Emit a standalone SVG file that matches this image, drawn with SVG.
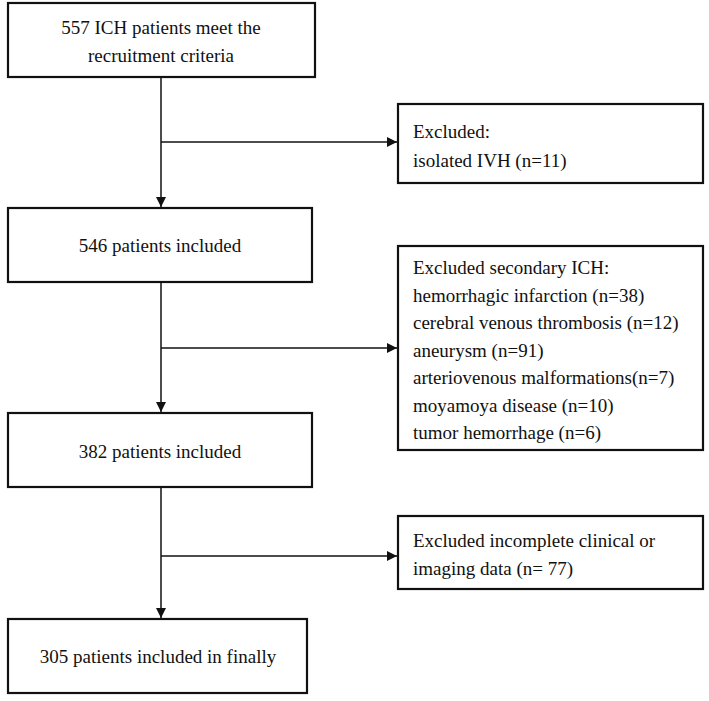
<svg xmlns="http://www.w3.org/2000/svg" width="709" height="701" viewBox="0 0 709 701">
<style>
.box{fill:#fff;stroke:#111;stroke-width:2.2}
.t{font-family:"Liberation Serif","Times New Roman",serif;font-size:19px;fill:#111}
.c{text-anchor:middle}
.ln{stroke:#111;stroke-width:1.5;fill:none}
</style>
<defs>
<marker id="ah" viewBox="0 0 10 10" refX="10" refY="5" markerWidth="10" markerHeight="10" markerUnits="userSpaceOnUse" orient="auto">
<path d="M0,0 L10,5 L0,10 Z" fill="#111"/>
</marker>
</defs>
<rect width="709" height="701" fill="#fff"/>
<g id="connectors">
<line class="ln" x1="161" y1="77" x2="161" y2="207" marker-end="url(#ah)"/>
<line class="ln" x1="161" y1="142" x2="397" y2="142" marker-end="url(#ah)"/>
<line class="ln" x1="161" y1="282" x2="161" y2="412" marker-end="url(#ah)"/>
<line class="ln" x1="161" y1="348" x2="397" y2="348" marker-end="url(#ah)"/>
<line class="ln" x1="161" y1="487" x2="161" y2="618" marker-end="url(#ah)"/>
<line class="ln" x1="161" y1="556" x2="397" y2="556" marker-end="url(#ah)"/>
</g>
<g id="n1">
<rect class="box" x="8" y="3" width="307" height="74"/>
<text class="t c" x="161" y="34">557 ICH patients meet the</text>
<text class="t c" x="161" y="62">recruitment criteria</text>
</g>
<g id="n2">
<rect class="box" x="398" y="104" width="305" height="79"/>
<text class="t" x="413" y="138">Excluded:</text>
<text class="t" x="413" y="167">isolated IVH (n=11)</text>
</g>
<g id="n3">
<rect class="box" x="8" y="208" width="304" height="74"/>
<text class="t c" x="160" y="252">546 patients included</text>
</g>
<g id="n4">
<rect class="box" x="398" y="246" width="305" height="204"/>
<text class="t" x="413" y="274">Excluded secondary ICH:</text>
<text class="t" x="413" y="302">hemorrhagic infarction (n=38)</text>
<text class="t" x="413" y="329">cerebral venous thrombosis (n=12)</text>
<text class="t" x="413" y="357">aneurysm (n=91)</text>
<text class="t" x="413" y="384">arteriovenous malformations(n=7)</text>
<text class="t" x="413" y="412">moyamoya disease (n=10)</text>
<text class="t" x="413" y="439">tumor hemorrhage (n=6)</text>
</g>
<g id="n5">
<rect class="box" x="8" y="413" width="304" height="74"/>
<text class="t c" x="160" y="458">382 patients included</text>
</g>
<g id="n6">
<rect class="box" x="398" y="516" width="305" height="73"/>
<text class="t" x="413" y="547">Excluded incomplete clinical or</text>
<text class="t" x="413" y="575">imaging data (n= 77)</text>
</g>
<g id="n7">
<rect class="box" x="8" y="619" width="299" height="74"/>
<text class="t c" x="158" y="663">305 patients included in finally</text>
</g>
</svg>
